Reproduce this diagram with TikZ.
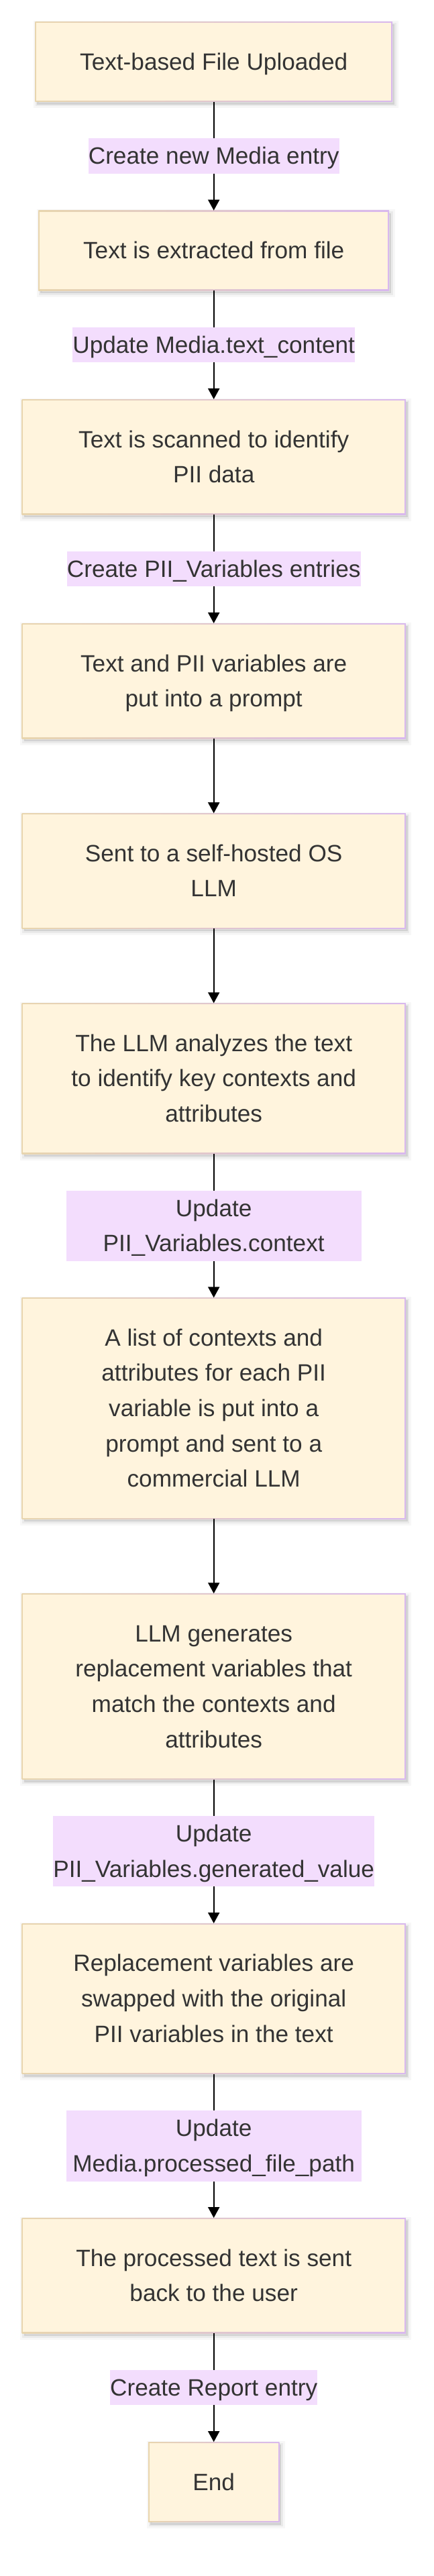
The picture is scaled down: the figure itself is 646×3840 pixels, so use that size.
\documentclass[tikz,border=0pt]{standalone}
\usepackage{fontspec}
\setmainfont{Liberation Sans}
\usetikzlibrary{arrows.meta,shadows}
\definecolor{boxfill}{HTML}{FFF4DD}
\definecolor{bdl}{HTML}{E8D5AE}
\definecolor{bdr}{HTML}{D9B8EE}
\definecolor{lblc}{HTML}{F3DDFD}
\definecolor{txt}{HTML}{333333}
\newcommand{\mainf}{\fontsize{35.2pt}{52.6pt}\selectfont}
\newcommand{\lstr}{\vrule height 38.5pt depth 14.1pt width 0pt}
\tikzset{
  boxshadow/.style={
    general shadow={fill=black, opacity=0.10, shadow xshift=3pt, shadow yshift=-4pt},
    general shadow={draw=black, opacity=0.05, line width=5pt, shadow xshift=3pt, shadow yshift=-4pt},
    general shadow={draw=black, opacity=0.03, line width=11pt, shadow xshift=3pt, shadow yshift=-4pt}},
  mbox/.style={rectangle, inner sep=0pt, outer sep=0pt, boxshadow,
    left color=bdl, right color=bdr,
    path picture={\fill[boxfill] ([xshift=1.8pt,yshift=-1.8pt]path picture bounding box.north west) rectangle ([xshift=-1.8pt,yshift=1.8pt]path picture bounding box.south east);},
    align=center, text=txt, font=\mainf},
  lbl/.style={fill=lblc, inner sep=0pt, outer sep=0pt, align=center, text=txt, font=\mainf},
  arr/.style={draw=black, line width=2pt, -{Triangle[width=17pt,length=16pt]}}
}
\begin{document}
\begin{tikzpicture}[x=1pt,y=-1pt]
\useasboundingbox (0,0) rectangle (646,3840);
\fill[white] (0,0) rectangle (646,3840);

\node[mbox, minimum width=532.7pt, minimum height=119.5pt] (b1) at (318.7,92.05) {\lstr Text-based File Uploaded};
\node[mbox, minimum width=522.8pt, minimum height=119.5pt] (b2) at (318.7,373.45) {\lstr Text is extracted from file};
\node[mbox, minimum width=572.3pt, minimum height=172.1pt] (b3) at (318.7,681.15) {\lstr Text is scanned to identify\\\lstr PII data};
\node[mbox, minimum width=572.3pt, minimum height=172.1pt] (b4) at (318.7,1015.15) {\lstr Text and PII variables are\\\lstr put into a prompt};
\node[mbox, minimum width=572.3pt, minimum height=172.1pt] (b5) at (318.7,1298.25) {\lstr Sent to a self-hosted OS\\\lstr LLM};
\node[mbox, minimum width=572.3pt, minimum height=224.7pt] (b6) at (318.7,1607.65) {\lstr The LLM analyzes the text\\\lstr to identify key contexts and\\\lstr attributes};
\node[mbox, minimum width=572.3pt, minimum height=329.9pt] (b7) at (318.7,2099.35) {\lstr A list of contexts and\\\lstr attributes for each PII\\\lstr variable is put into a\\\lstr prompt and sent to a\\\lstr commercial LLM};
\node[mbox, minimum width=572.3pt, minimum height=277.3pt] (b8) at (318.7,2513.95) {\lstr LLM generates\\\lstr replacement variables that\\\lstr match the contexts and\\\lstr attributes};
\node[mbox, minimum width=572.3pt, minimum height=224.7pt] (b9) at (318.7,2979.35) {\lstr Replacement variables are\\\lstr swapped with the original\\\lstr PII variables in the text};
\node[mbox, minimum width=572.3pt, minimum height=172.1pt] (b10) at (318.7,3392.15) {\lstr The processed text is sent\\\lstr back to the user};
\node[mbox, minimum width=195.4pt, minimum height=119.5pt] (b11) at (318.7,3699.85) {\lstr End};

\draw[arr] (b1) -- node[lbl] (l1) {\lstr Create new Media entry} (b2);
\draw[arr] (b2) -- node[lbl] (l2) {\lstr Update Media.text\_content} (b3);
\draw[arr] (b3) -- node[lbl] (l3) {\lstr Create PII\_Variables entries} (b4);
\draw[arr] (b4) -- (b5);
\draw[arr] (b5) -- (b6);
\draw[arr] (b6) -- node[lbl, minimum width=440.3pt] (l4) {\lstr Update\\\lstr PII\_Variables.context} (b7);
\draw[arr] (b7) -- (b8);
\draw[arr] (b8) -- node[lbl, minimum width=440.3pt] (l5) {\lstr Update\\\lstr PII\_Variables.generated\_value} (b9);
\draw[arr] (b9) -- node[lbl, minimum width=440.3pt] (l6) {\lstr Update\\\lstr Media.processed\_file\_path} (b10);
\draw[arr] (b10) -- node[lbl] (l7) {\lstr Create Report entry} (b11);
\end{tikzpicture}
\end{document}
